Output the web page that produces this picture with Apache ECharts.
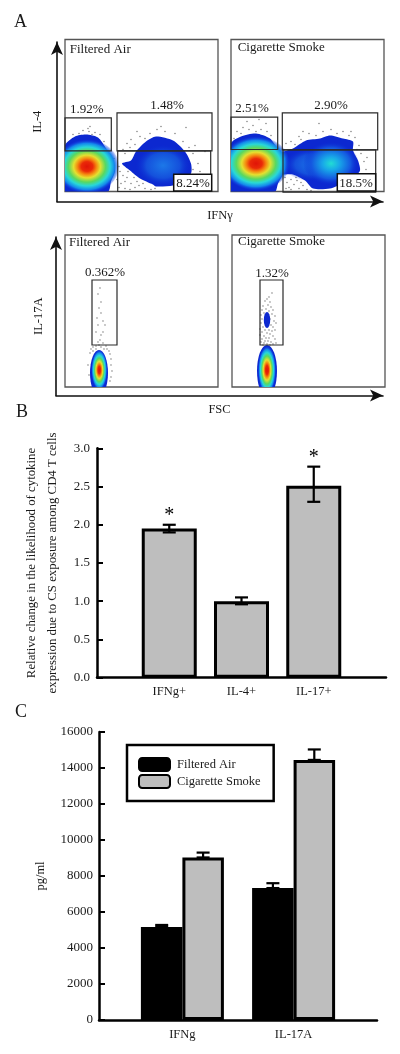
<!DOCTYPE html>
<html>
<head>
<meta charset="utf-8">
<style>
  html, body { margin: 0; padding: 0; background: #fff; }
  #chart { width: 400px; height: 1054px; }
</style>
</head>
<body>
<div id="chart"></div>
<script src="https://cdn.jsdelivr.net/npm/echarts@6/dist/echarts.min.js"></script>
<script>
// panel B
const bCategories = ['', 'IFNg+', 'IL-4+', 'IL-17+', '']
const bValues = [null, 1.95, 1.0, 2.51, null]
const bErrLow = [null, 1.9, 0.96, 2.3, null]
const bErrHigh = [null, 2.0, 1.05, 2.76, null]
const bStars = [[1, 2.12], [3, 2.88]]

// panel C
const cPositions = [0.75, 1.75]
const cCategories = ['IFNg', 'IL-17A']
const cAir = [5170, 7330]
const cAirHigh = [5280, 7600]
const cSmoke = [9030, 14450]
const cSmokeHigh = [9300, 15030]

// panel A flow plots, in panel units (0-153, 0-152)
const air4Blobs = [
  [[0, 46], [10, 55], [21, 57], [33, 54], [41, 43], [46, 31], [50, 21], [46, 10], [43, 0], [0, 0]],
  [[57, 28], [66, 31], [71, 40], [81, 50], [91, 55], [108, 51], [120, 40], [126, 28], [126, 18], [116, 11], [108, 6], [91, 5], [88, 7], [75, 13], [65, 21]]
]
const smoke4Blobs = [
  [[0, 48], [10, 55], [25, 58], [39, 53], [46, 43], [51, 31], [52, 18], [47, 8], [44, 0], [0, 0]],
  [[50, 38], [62, 43], [75, 51], [89, 53], [99, 56], [112, 53], [122, 50], [122, 41], [127, 31], [129, 21], [122, 13], [112, 8], [99, 3], [82, 3], [74, 11], [62, 17], [50, 18]]
]
// cx, cy, rx, ry, palette name
const air4Spots = [[22, 25, 32, 27, 'jet'], [98, 26, 28, 21, 'azure']]
const smoke4Spots = [[25, 28, 34, 27, 'jet'], [82, 27, 30, 17, 'azure'], [100, 28, 28, 22, 'cyan']]
const air17Spots = [[34, 14, 9, 23, 'deep'], [34.3, 17, 8, 20, 'jet']]
const smoke17Spots = [[35, 16, 10, 26, 'deep'], [35, 67, 3.2, 8, 'deep'], [35, 17, 9, 24, 'jet']]

const air4Dots = [[14, 58], [18, 61], [24, 60], [30, 59], [23, 63], [35, 57], [8, 57], [25, 65], [39, 50], [44, 40], [49, 33], [27, 57],
  [58, 42], [62, 48], [66, 52], [70, 47], [75, 55], [80, 53], [72, 60], [85, 58], [92, 62], [100, 60], [110, 58], [118, 50], [124, 44], [128, 38], [130, 46], [133, 28], [135, 20], [132, 14], [128, 22], [140, 40], [96, 65], [121, 64], [65, 44], [60, 38],
  [54, 25], [55, 20], [58, 16], [60, 10], [62, 14], [66, 8], [70, 4], [74, 6], [80, 3], [86, 2], [90, 3], [56, 8], [60, 3], [65, 2], [72, 10], [63, 20], [52, 12], [54, 4], [78, 8], [69, 14]]
const smoke4Dots = [[6, 60], [12, 64], [18, 62], [22, 66], [30, 62], [36, 60], [40, 56], [3, 53], [28, 72], [35, 68], [16, 70], [42, 48], [10, 58], [25, 60],
  [55, 48], [60, 50], [64, 47], [68, 55], [72, 60], [78, 58], [85, 56], [92, 60], [100, 62], [106, 58], [112, 60], [118, 56], [124, 54], [128, 46], [130, 38], [133, 30], [135, 22], [131, 16], [126, 10], [120, 60], [88, 68], [70, 52], [126, 42], [136, 34],
  [54, 14], [56, 9], [58, 4], [60, 12], [63, 7], [66, 11], [68, 3], [72, 6], [76, 2], [80, 1], [55, 3], [65, 14], [60, 2], [70, 9]]
const air17Dots = [[35, 99], [33, 93], [36, 85], [34, 79], [36, 74], [32, 69], [38, 66], [40, 62], [33, 62], [31, 55], [36, 52], [38, 55], [35, 47], [33, 45], [38, 44], [31, 41], [36, 40], [28, 40], [41, 41],
  [26, 38], [28, 36], [31, 38], [34, 42], [39, 38], [42, 38], [44, 36], [45, 33], [46, 28], [46, 22], [47, 16], [46, 10], [45, 6], [25, 34], [23, 22], [24, 12]]
const smoke17Dots = [[40, 94], [37, 90], [35, 88], [38, 85], [33, 86], [36, 82], [31, 81], [39, 80], [34, 78], [30, 77], [37, 76], [41, 77], [32, 74], [29, 72], [40, 73], [43, 71], [33, 69], [30, 68], [38, 68], [42, 66], [44, 64], [29, 64], [39, 62], [41, 60], [31, 60], [28, 58], [37, 57], [33, 57], [40, 56], [43, 57], [30, 55], [35, 54], [38, 53], [28, 52], [32, 51], [41, 51], [34, 49], [37, 49], [30, 48], [43, 48], [33, 46], [36, 46], [39, 45], [29, 45], [32, 44], [35, 43], [41, 43], [38, 42], [31, 42], [44, 44]]

// x0, y0, x1, y1
const air4Gates = [[0, 40.7, 46.3, 73.7], [52, 40.7, 147, 78.7], [52.7, 0, 145.7, 40.7]]
const smoke4Gates = [[0, 42, 46.7, 74.3], [51.3, 41.7, 146.7, 78.7], [52, -0.7, 144.7, 41.7]]
const air17Gates = [[27, 42, 52, 107]]
const smoke17Gates = [[28, 42, 51, 107]]
const air4Box = [[108.7, 0.5, 146.7, 17.3]]
const smoke4Box = [[106.3, 0.5, 144.7, 17.7]]

// x, y, text, align
const air4Labels = [[4.7, 142, 'Filtered Air', 'left'], [21.7, 82, '1.92%', 'center'], [102, 86, '1.48%', 'center'], [128, 8, '8.24%', 'center']]
const smoke4Labels = [[6.7, 144, 'Cigarette Smoke', 'left'], [21, 83, '2.51%', 'center'], [100, 86, '2.90%', 'center'], [125, 8, '18.5%', 'center']]
const air17Labels = [[4, 144, 'Filtered Air', 'left'], [40, 114, '0.362%', 'center']]
const smoke17Labels = [[6, 145, 'Cigarette Smoke', 'left'], [40, 113, '1.32%', 'center']]

const SERIF = '"Liberation Serif", "Times New Roman", serif'
const textColor = '#1a1a1a'
const barGray = '#bebebe'

const palettes = {
  jet: [[0, '#e01408'], [0.18, '#ea2a08'], [0.3, '#f58a10'], [0.42, '#e4e030'], [0.58, '#58d860'], [0.72, '#28d8d8'], [0.86, '#1488ec'], [1, 'rgba(16,48,224,0.15)']],
  azure: [[0, '#1c78e8'], [0.6, '#1450dc'], [1, 'rgba(10,40,210,0)']],
  cyan: [[0, '#22dcd4'], [0.3, '#18a8e8'], [0.7, '#1458e0'], [1, 'rgba(10,40,210,0)']],
  deep: [[0, '#0c28d0'], [1, '#0c28d0']]
}

const chart = echarts.init(document.getElementById('chart'), null, { renderer: 'canvas' })

// one flow plot: blobs, dots, gates, labels
const flowSeries = (index, blobs, spots, dots, gates, boxes, labels) => {
  const common = { type: 'custom', xAxisIndex: index, yAxisIndex: index, silent: true, animation: false }
  const list = []
  if (blobs.length) {
    list.push({
      ...common, z: 2, clip: true,
      data: blobs.map((b, i) => [i, 0]),
      renderItem: (params, api) => ({
        type: 'polygon',
        shape: { points: blobs[params.dataIndex].map(p => api.coord(p)), smooth: 0.25 },
        style: { fill: '#0c28d0' }
      })
    })
  }
  list.push({
    type: 'scatter', xAxisIndex: index, yAxisIndex: index, z: 3, silent: true, animation: false,
    symbolSize: 1.3, itemStyle: { color: '#444' }, data: dots
  })
  list.push({
    ...common, z: 4, clip: true,
    data: spots.map((s, i) => [i, 0]),
    renderItem: (params, api) => {
      const s = spots[params.dataIndex]
      const c = api.coord([s[0], s[1]])
      const r = api.size([s[2], s[3]])
      const stops = palettes[s[4]].map(p => ({ offset: p[0], color: p[1] }))
      // radial gradients stay circular, so scale a circle into the ellipse
      return {
        type: 'circle',
        x: c[0], y: c[1], scaleX: 1, scaleY: r[1] / r[0],
        shape: { cx: 0, cy: 0, r: r[0] },
        style: { fill: new echarts.graphic.RadialGradient(0.5, 0.5, 0.5, stops) }
      }
    }
  })
  const rectSeries = (rows, z, style) => ({
    ...common, z,
    data: rows.map((r, i) => [i, 0]),
    renderItem: (params, api) => {
      const r = rows[params.dataIndex]
      const a = api.coord([r[0], r[3]])
      const b = api.coord([r[2], r[1]])
      return {
        type: 'rect',
        shape: { x: a[0], y: a[1], width: b[0] - a[0], height: b[1] - a[1] },
        style
      }
    }
  })
  list.push(rectSeries(gates, 5, { fill: 'none', stroke: '#2a2a2a', lineWidth: 1.2 }))
  if (boxes.length) list.push(rectSeries(boxes, 6, { fill: '#fff', stroke: '#111', lineWidth: 1.5 }))
  list.push({
    ...common, z: 7,
    data: labels.map((l, i) => [i, 0]),
    renderItem: (params, api) => {
      const l = labels[params.dataIndex]
      const c = api.coord([l[0], l[1]])
      return {
        type: 'text',
        style: {
          x: c[0], y: c[1], text: l[2], fill: textColor,
          font: '13px ' + SERIF, textAlign: l[3], textVerticalAlign: 'middle'
        }
      }
    }
  })
  return list
}

const flowGrid = (left, top) => ({
  left, top, width: 153, height: 152, show: true,
  backgroundColor: '#fff', borderColor: '#555', borderWidth: 1.3, containLabel: false
})
const flowX = gridIndex => ({ type: 'value', gridIndex, min: 0, max: 153, show: false })
const flowY = gridIndex => ({ type: 'value', gridIndex, min: 0, max: 152, show: false })

const arrowAxis = (gridIndex, name, nameGap) => ({
  type: 'value', gridIndex, min: 0, max: 1, name, nameLocation: 'middle', nameGap,
  nameTextStyle: { fontFamily: SERIF, fontSize: 12.5, color: textColor },
  axisLine: { show: true, onZero: false, symbol: ['none', 'arrow'], symbolSize: [9, 13], lineStyle: { color: '#111', width: 1.6 } },
  axisTick: { show: false }, axisLabel: { show: false }, splitLine: { show: false }
})

// error bars, px offset from the category centre
const errorSeries = (xAxisIndex, yAxisIndex, xs, lows, highs, offset, capWidth) => ({
  type: 'custom', xAxisIndex, yAxisIndex, z: 6, silent: true, animation: false,
  data: xs.map((x, i) => [x, highs[i]]),
  renderItem: (params, api) => {
    const i = params.dataIndex
    if (highs[i] == null) return null
    const top = api.coord([xs[i], highs[i]])
    const bottom = api.coord([xs[i], lows[i]])
    const x = top[0] + offset
    const style = { stroke: '#000', lineWidth: 2.2 }
    const line = (x1, y1, x2, y2) => ({ type: 'line', shape: { x1, y1, x2, y2 }, style })
    return {
      type: 'group',
      children: [
        line(x, top[1], x, bottom[1]),
        line(x - capWidth / 2, top[1], x + capWidth / 2, top[1]),
        line(x - capWidth / 2, bottom[1], x + capWidth / 2, bottom[1])
      ]
    }
  }
})

const axisText = { fontFamily: SERIF, fontSize: 13, color: textColor }
const heavyLine = { show: true, onZero: false, lineStyle: { color: '#000', width: 2.5 } }
const heavyTick = { show: true, inside: true, length: 6, lineStyle: { color: '#000', width: 2 } }

const barStyle = color => ({ color, borderColor: '#000', borderWidth: 3 })

const option = {
  animation: false,
  backgroundColor: '#fff',
  title: [
    { text: 'A', left: 14, top: 13 },
    { text: 'B', left: 16, top: 403 },
    { text: 'C', left: 15, top: 703 }
  ].map(t => ({ ...t, padding: 0, textStyle: { fontFamily: SERIF, fontSize: 18, fontWeight: 'normal', color: textColor } })),
  grid: [
    flowGrid(65, 39.5),
    flowGrid(231, 39.5),
    flowGrid(65, 235),
    flowGrid(232, 235),
    { left: 57, top: 42, width: 326, height: 159.5 },
    { left: 56, top: 237, width: 327, height: 158.5 },
    { left: 97, top: 448.3, width: 289, height: 229.4 },
    { left: 99, top: 732, width: 278, height: 288 }
  ],
  xAxis: [
    flowX(0), flowX(1), flowX(2), flowX(3),
    arrowAxis(4, 'IFNγ', 8),
    arrowAxis(5, 'FSC', 8),
    {
      type: 'category', gridIndex: 6, data: bCategories, boundaryGap: false,
      axisLine: heavyLine, axisTick: { show: false },
      axisLabel: { ...axisText, fontSize: 12.5, margin: 8, interval: 0 }
    },
    {
      type: 'value', gridIndex: 7, min: 0, max: 2.5,
      axisLine: heavyLine, axisTick: { show: false }, splitLine: { show: false },
      axisLabel: {
        ...axisText, fontSize: 12.5, margin: 8,
        customValues: cPositions,
        formatter: v => cCategories[cPositions.indexOf(v)]
      }
    }
  ],
  yAxis: [
    flowY(0), flowY(1), flowY(2), flowY(3),
    arrowAxis(4, 'IL-4', 13),
    arrowAxis(5, 'IL-17A', 11),
    {
      type: 'value', gridIndex: 6, min: 0, max: 3, interval: 0.5,
      name: 'Relative change in the likelihood of cytokine\nexpression due to CS exposure among CD4 T cells',
      nameLocation: 'middle', nameGap: 30,
      nameTextStyle: { fontFamily: SERIF, fontSize: 12.8, lineHeight: 21, color: textColor },
      axisLine: heavyLine, axisTick: heavyTick, splitLine: { show: false },
      axisLabel: { ...axisText, margin: 7, formatter: v => v.toFixed(1) }
    },
    {
      type: 'value', gridIndex: 7, min: 0, max: 16000, interval: 2000,
      name: 'pg/ml', nameLocation: 'middle', nameGap: 52,
      nameTextStyle: { fontFamily: SERIF, fontSize: 12.5, color: textColor },
      axisLine: heavyLine, axisTick: heavyTick, splitLine: { show: false },
      axisLabel: { ...axisText, margin: 6, formatter: v => String(v) }
    }
  ],
  legend: {
    left: 127, top: 745, orient: 'vertical', data: ['Filtered Air', 'Cigarette Smoke'],
    backgroundColor: '#fff', borderColor: '#000', borderWidth: 2.5,
    padding: [12, 13, 12, 11], itemGap: 2, itemWidth: 31, itemHeight: 13, icon: 'roundRect',
    selectedMode: false,
    textStyle: { fontFamily: SERIF, fontSize: 12.5, color: textColor, padding: [0, 0, 0, 2] }
  },
  series: [
    ...flowSeries(0, air4Blobs, air4Spots, air4Dots, air4Gates, air4Box, air4Labels),
    ...flowSeries(1, smoke4Blobs, smoke4Spots, smoke4Dots, smoke4Gates, smoke4Box, smoke4Labels),
    ...flowSeries(2, [], air17Spots, air17Dots, air17Gates, [], air17Labels),
    ...flowSeries(3, [], smoke17Spots, smoke17Dots, smoke17Gates, [], smoke17Labels),
    {
      type: 'bar', xAxisIndex: 6, yAxisIndex: 6, data: bValues, barWidth: 55,
      itemStyle: barStyle(barGray), silent: true
    },
    errorSeries(6, 6, [0, 1, 2, 3, 4], bErrLow, bErrHigh, 0, 13),
    {
      type: 'custom', xAxisIndex: 6, yAxisIndex: 6, z: 7, silent: true,
      data: bStars,
      renderItem: (params, api) => {
        const c = api.coord([api.value(0), api.value(1)])
        return {
          type: 'text',
          style: { x: c[0], y: c[1], text: '*', fill: '#000', font: '20px ' + SERIF, textAlign: 'center', textVerticalAlign: 'middle' }
        }
      }
    },
    {
      name: 'Filtered Air', type: 'bar', xAxisIndex: 7, yAxisIndex: 7, barWidth: 41.5, barGap: '0%',
      data: cPositions.map((x, i) => [x, cAir[i]]), itemStyle: barStyle('#000'), silent: true
    },
    {
      name: 'Cigarette Smoke', type: 'bar', xAxisIndex: 7, yAxisIndex: 7, barWidth: 41.5, barGap: '0%',
      data: cPositions.map((x, i) => [x, cSmoke[i]]), itemStyle: barStyle(barGray), silent: true
    },
    errorSeries(7, 7, cPositions, cAir, cAirHigh, -20.7, 13),
    errorSeries(7, 7, cPositions, cSmoke, cSmokeHigh, 20.7, 13)
  ]
}

chart.setOption(option)
</script>
</body>
</html>
